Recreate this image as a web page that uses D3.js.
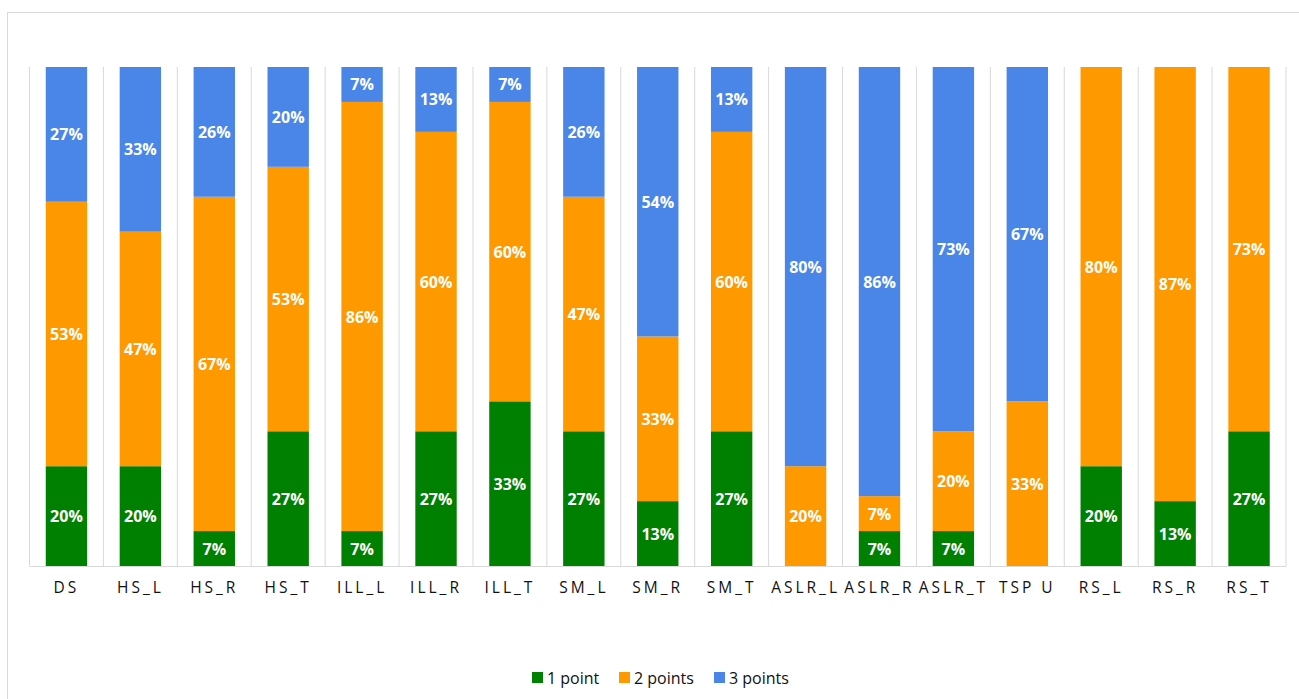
<!DOCTYPE html>
<html>
<head>
<meta charset="utf-8">
<script src="https://cdn.jsdelivr.net/npm/d3@7"></script>
<style>
  body { margin: 0; background: #fff; }
  svg { display: block; font-family: "Open Sans", "Liberation Sans", sans-serif; }
</style>
</head>
<body>
<svg id="chart" width="1299" height="699"></svg>
<script>
const categories = ["DS", "HS_L", "HS_R", "HS_T", "ILL_L", "ILL_R", "ILL_T", "SM_L", "SM_R", "SM_T",
    "ASLR_L", "ASLR_R", "ASLR_T", "TSP U", "RS_L", "RS_R", "RS_T"];
const onePoint    = [20, 20, 7, 27, 7, 27, 33, 27, 13, 27, 0, 7, 7, 0, 20, 13, 27];
const twoPoints   = [53, 47, 67, 53, 86, 60, 60, 47, 33, 60, 20, 7, 20, 33, 80, 87, 73];
const threePoints = [27, 33, 26, 20, 7, 13, 7, 26, 54, 13, 80, 86, 73, 67, 0, 0, 0];
const seriesNames = ["1 point", "2 points", "3 points"];
const seriesColors = ["#008000", "#FF9900", "#4A86E8"];

const svg = d3.select("#chart");
const margin = { left: 29.5, right: 13, top: 67, bottom: 133 };
const width = 1299, height = 699;

// chart frame
svg.append("rect")
    .attr("x", 7.5).attr("y", 12.5)
    .attr("width", 1300).attr("height", 700)
    .attr("fill", "none").attr("stroke", "#d9d9d9");

const x = d3.scaleBand()
    .domain(categories)
    .range([margin.left, width - margin.right])
    .paddingInner(0.44)
    .paddingOuter(0.22);

const y = d3.scaleLinear()
    .domain([0, 100])
    .range([height - margin.bottom, margin.top]);

const step = x.step();
const gridX = d3.range(categories.length + 1).map(i => margin.left + i * step);

svg.append("g")
    .selectAll("line")
    .data(gridX)
    .join("line")
    .attr("x1", d => d).attr("x2", d => d)
    .attr("y1", y(100)).attr("y2", y(0))
    .attr("stroke", "#d9d9d9");

const table = categories.map((c, i) => ({
    cat: c,
    "1 point": onePoint[i],
    "2 points": twoPoints[i],
    "3 points": threePoints[i]
}));

const stacked = d3.stack().keys(seriesNames)(table);

const layers = svg.append("g")
    .selectAll("g")
    .data(stacked)
    .join("g")
    .attr("fill", (d, i) => seriesColors[i]);

layers.selectAll("rect")
    .data(d => d.filter(s => s[1] - s[0] > 0))
    .join("rect")
    .attr("x", d => x(d.data.cat))
    .attr("width", x.bandwidth())
    .attr("y", d => y(d[1]))
    .attr("height", d => y(d[0]) - y(d[1]));

layers.selectAll("text")
    .data(d => d.filter(s => s[1] - s[0] > 0))
    .join("text")
    .attr("x", d => x(d.data.cat) + x.bandwidth() / 2)
    .attr("y", d => y((d[0] + d[1]) / 2))
    .attr("text-anchor", "middle")
    .attr("dominant-baseline", "central")
    .attr("fill", "#fff")
    .attr("font-weight", "bold")
    .attr("font-size", 16)
    .text(d => (d[1] - d[0]) + "%");

// x axis
const xAxis = svg.append("g")
    .attr("transform", `translate(0, ${y(0)})`)
    .call(d3.axisBottom(x).tickSize(0).tickPadding(16));
xAxis.select(".domain").attr("stroke", "#d9d9d9").attr("d", `M${margin.left},0.5H${gridX[gridX.length - 1]}`);
xAxis.selectAll("text")
    .attr("font-size", 15.5)
    .attr("font-family", "\"Open Sans\", sans-serif")
    .attr("fill", "#111")
    .attr("letter-spacing", "3px");

// legend
const legendItems = [
    { name: seriesNames[0], color: seriesColors[0], x: 532 },
    { name: seriesNames[1], color: seriesColors[1], x: 619 },
    { name: seriesNames[2], color: seriesColors[2], x: 714 }
];
const legend = svg.append("g").attr("transform", "translate(0, 678)");
const cell = legend.selectAll("g")
    .data(legendItems)
    .join("g")
    .attr("transform", d => `translate(${d.x}, 0)`);
cell.append("rect")
    .attr("x", 0).attr("y", -6)
    .attr("width", 11).attr("height", 11)
    .attr("fill", d => d.color);
cell.append("text")
    .attr("x", 15)
    .attr("dominant-baseline", "central")
    .attr("font-size", 16)
    .attr("fill", "#111")
    .text(d => d.name);
</script>
</body>
</html>
